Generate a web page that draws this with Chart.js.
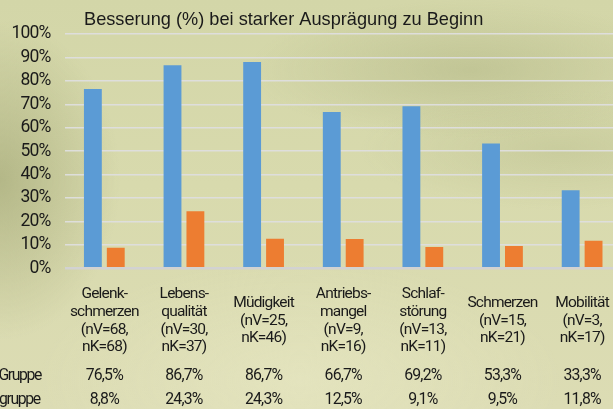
<!DOCTYPE html>
<html>
<head>
<meta charset="utf-8">
<script src="https://cdn.jsdelivr.net/npm/chart.js@4"></script>
<style>
  html, body {
    margin: 0;
    padding: 0;
    width: 613px;
    height: 409px;
    overflow: hidden;
  }
  body {
    background:
      radial-gradient(ellipse 120px 160px at 0px 180px, rgba(150, 155, 105, 0.55), rgba(150, 155, 105, 0) 100%),
      radial-gradient(ellipse 220px 70px at 470px 70px, rgba(170, 175, 125, 0.45), rgba(170, 175, 125, 0) 100%),
      radial-gradient(ellipse 200px 60px at 560px 150px, rgba(175, 180, 130, 0.35), rgba(175, 180, 130, 0) 100%),
      radial-gradient(ellipse 260px 120px at 300px 380px, rgba(235, 235, 200, 0.5), rgba(235, 235, 200, 0) 100%),
      linear-gradient(180deg, #d3d6a8 0%, #d8daad 45%, #dcdcb4 100%);
  }
  #chart {
    position: absolute;
    left: 0;
    top: 0;
  }
</style>
</head>
<body>
<canvas id="chart" width="640" height="409"></canvas>
<script>
const categories = [
  ["Gelenk-", "schmerzen", "(nV=68,", "nK=68)"],
  ["Lebens-", "qualität", "(nV=30,", "nK=37)"],
  ["Müdigkeit", "(nV=25,", "nK=46)"],
  ["Antriebs-", "mangel", "(nV=9,", "nK=16)"],
  ["Schlaf-", "störung", "(nV=13,", "nK=11)"],
  ["Schmerzen", "(nV=15,", "nK=21)"],
  ["Mobilität", "(nV=3,", "nK=17)"],
];
const verumValues = [76.5, 86.7, 88.0, 66.7, 69.2, 53.3, 33.3];
const kontrollValues = [8.8, 24.3, 12.6, 12.5, 9.1, 9.5, 11.8];
const verumTexts = ["76,5%", "86,7%", "86,7%", "66,7%", "69,2%", "53,3%", "33,3%"];
const kontrollTexts = ["8,8%", "24,3%", "24,3%", "12,5%", "9,1%", "9,5%", "11,8%"];
const rowLabels = ["Gruppe", "gruppe"];
const yTicks = [0, 10, 20, 30, 40, 50, 60, 70, 80, 90, 100];
const chartTitle = "Besserung (%) bei starker Ausprägung zu Beginn";

const LABEL_FONT = "Roboto, 'Liberation Sans', Arial, sans-serif";
const TITLE_FONT = "'Liberation Sans', Arial, Helvetica, sans-serif";
const TIGHT = "-0.8px"; // labels in the original are a condensed face

// tighter letters for axis labels, then title + table rows
const tablePlugin = {
  id: "tablePlugin",
  beforeDraw(chart) {
    chart.ctx.letterSpacing = TIGHT;
  },
  afterDraw(chart) {
    const ctx = chart.ctx;
    const xs = chart.scales.x;
    ctx.save();
    ctx.fillStyle = "#1a1a1a";
    ctx.letterSpacing = "0px";
    ctx.font = "18.2px " + TITLE_FONT;
    ctx.textAlign = "left";
    ctx.textBaseline = "middle";
    ctx.fillText(chartTitle, 84, 20);

    ctx.letterSpacing = TIGHT;
    ctx.font = "15.8px " + LABEL_FONT;
    ctx.textAlign = "center";
    categories.forEach((c, i) => {
      const x = xs.getPixelForValue(i);
      ctx.fillText(verumTexts[i], x, 376);
      ctx.fillText(kontrollTexts[i], x, 400.5);
    });
    // row headers are cut by the left edge in the original
    ctx.letterSpacing = "-1.4px";
    ctx.textAlign = "left";
    ctx.fillText(rowLabels[0], -1.5, 376);
    ctx.fillText(rowLabels[1], -1, 400.5);
    ctx.restore();
    ctx.letterSpacing = "0px";
  },
};

const data = {
  labels: categories,
  datasets: [
    {
      label: "Verum",
      data: verumValues,
      backgroundColor: "#5b9bd5",
      categoryPercentage: 0.575,
      barPercentage: 0.78,
    },
    {
      label: "Kontrolle",
      data: kontrollValues,
      backgroundColor: "#ed7d31",
      categoryPercentage: 0.575,
      barPercentage: 0.78,
    },
  ],
};

const config = {
  type: "bar",
  data: data,
  plugins: [tablePlugin],
  options: {
    responsive: false,
    devicePixelRatio: 1,
    animation: false,
    layout: {
      padding: { top: 34, right: 15.5, bottom: 0, left: 0 },
    },
    plugins: {
      legend: { display: false },
      title: { display: false },
      tooltip: { enabled: false },
    },
    scales: {
      x: {
        grid: { display: false, drawTicks: false },
        border: { display: false },
        ticks: {
          color: "#1a1a1a",
          font: { family: LABEL_FONT, size: 15.5, lineHeight: 1.13 },
          padding: 26.3,
          maxRotation: 0,
          autoSkip: false,
          crossAlign: "center",
        },
        afterFit(scale) {
          scale.height = 140.7;
        },
      },
      y: {
        min: 0,
        max: 100,
        afterBuildTicks(scale) {
          scale.ticks = yTicks.map((v) => ({ value: v }));
        },
        grid: {
          drawTicks: false,
          color: (c) => (c.tick && c.tick.value === 0 ? "#d2d2d2" : "rgba(222, 222, 222, 0.95)"),
          lineWidth: (c) => (c.tick && c.tick.value === 0 ? 2.5 : 1.5),
        },
        border: { display: false },
        ticks: {
          color: "#1a1a1a",
          font: { family: LABEL_FONT, size: 17.5 },
          padding: 14,
          autoSkip: false,
          callback: (v) => v + "%",
        },
        afterFit(scale) {
          scale.width = 64.5;
        },
      },
    },
  },
};

var ctx = document.getElementById("chart").getContext("2d");
var myChart = new Chart(ctx, config);
</script>
</body>
</html>
